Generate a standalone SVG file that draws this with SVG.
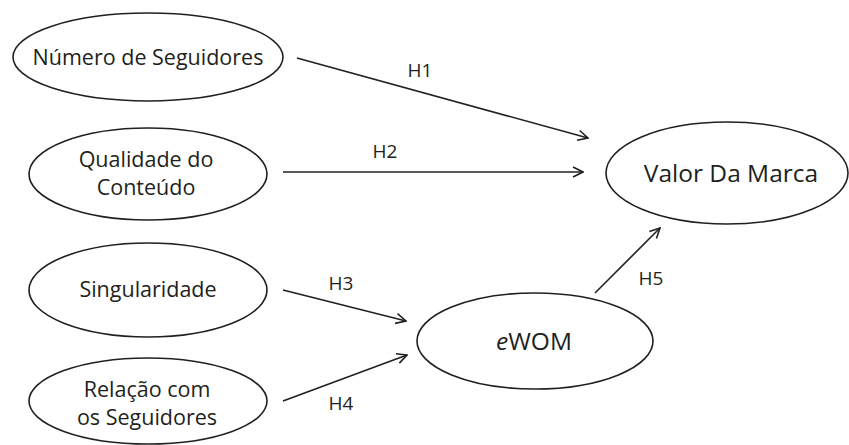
<svg xmlns="http://www.w3.org/2000/svg" width="849" height="445" viewBox="0 0 849 445">
<style>
.node ellipse{fill:#fff;stroke:#231f20;stroke-width:1.6}
.lbl{font-family:"Open Sans","Noto Sans",sans-serif;fill:#231f20;text-anchor:middle}
.t{font-size:21.5px}
.big{font-size:24.5px}
.h{font-size:19px}
.conn line{stroke:#231f20;stroke-width:1.6;fill:none;marker-end:url(#arr)}
</style>
<defs>
<marker id="arr" viewBox="0 0 12 12" refX="11" refY="6" markerWidth="12" markerHeight="12" markerUnits="userSpaceOnUse" orient="auto">
<path d="M1,1 L11,6 L1,11" fill="none" stroke="#231f20" stroke-width="1.6"/>
</marker>
</defs>
<rect width="849" height="445" fill="#fff"/>
<g id="n1" class="node"><ellipse cx="148" cy="57" rx="135" ry="44"/><text class="lbl t" x="148" y="65">Número de Seguidores</text></g>
<g id="n2" class="node"><ellipse cx="148" cy="174" rx="119" ry="46"/><text class="lbl t" x="146" y="167">Qualidade do</text><text class="lbl t" x="146" y="195">Conteúdo</text></g>
<g id="n3" class="node"><ellipse cx="148" cy="290" rx="119" ry="47"/><text class="lbl t" x="148" y="297">Singularidade</text></g>
<g id="n4" class="node"><ellipse cx="148" cy="401" rx="119" ry="43"/><text class="lbl t" x="147" y="397">Relação com</text><text class="lbl t" x="147" y="425">os Seguidores</text></g>
<g id="n5" class="node"><ellipse cx="727" cy="173" rx="121" ry="51"/><text class="lbl big" x="731" y="182">Valor Da Marca</text></g>
<g id="n6" class="node"><ellipse cx="535" cy="341" rx="118" ry="48"/><text class="lbl big" x="534" y="350"><tspan font-style="italic">e</tspan>WOM</text></g>
<g id="connectors" class="conn">
<line x1="297" y1="58" x2="588" y2="138"/>
<line x1="283" y1="172" x2="583" y2="172"/>
<line x1="283" y1="290" x2="406" y2="321"/>
<line x1="283" y1="401" x2="407" y2="355"/>
<line x1="595" y1="293" x2="660" y2="228"/>
</g>
<g id="labels">
<text class="lbl h" x="420" y="77">H1</text>
<text class="lbl h" x="385" y="158">H2</text>
<text class="lbl h" x="341" y="290">H3</text>
<text class="lbl h" x="341" y="410">H4</text>
<text class="lbl h" x="651" y="285">H5</text>
</g>
</svg>
